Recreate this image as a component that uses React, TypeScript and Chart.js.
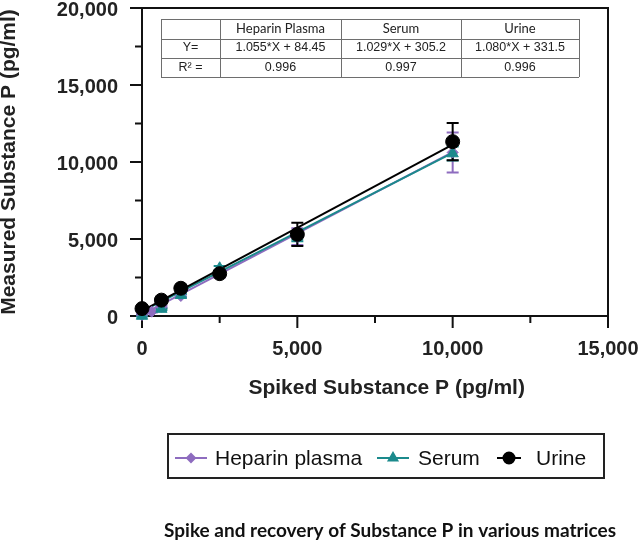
import React, { useEffect, useRef } from 'react';
import { Chart, registerables } from 'chart.js';
import { drawPoint } from 'chart.js/helpers';

Chart.register(...registerables);

// values
const matrices = ['Heparin plasma', 'Serum', 'Urine'];

const heparinSpiked = [0, 312.5, 625, 1250, 2500, 5000, 10000];
const heparinMeasured = [60, 280, 600, 1300, 2700, 5150, 10620];
const heparinSD = [50, 60, 80, 120, 200, 540, 1300];

const serumSpiked = [0, 625, 1250, 2500, 5000, 10000];
const serumMeasured = [0, 450, 1350, 3100, 5150, 10550];
const serumSD = [40, 60, 100, 150, 300, 450];

const urineSpiked = [0, 625, 1250, 2500, 5000, 10000];
const urineMeasured = [480, 1030, 1800, 2750, 5300, 11320];
const urineSD = [60, 80, 100, 150, 760, 1210];

// linear fits shown in the table
const fitSlopes = [1.055, 1.029, 1.08];
const fitIntercepts = [84.45, 305.2, 331.5];
const fitRange = [0, 10000];
const fitEquations = ['1.055*X + 84.45', '1.029*X + 305.2', '1.080*X + 331.5'];
const fitR2 = ['0.996', '0.997', '0.996'];
const tableHeaders = ['', 'Heparin Plasma', 'Serum', 'Urine'];

const xTickValues = [0, 5000, 10000, 15000];
const xMinorTicks = [2500, 7500, 12500];
const yTickValues = [0, 5000, 10000, 15000, 20000];
const yMinorTicks = [2500, 7500, 12500, 17500];

const PURPLE = '#8e6cbf';
const TEAL = '#1b8a8c';
const BLACK = '#000000';
const INK = '#222222';
const ARIAL = "'Liberation Sans', Arial, Helvetica, sans-serif";

const spikedSets = [heparinSpiked, serumSpiked, urineSpiked];
const measuredSets = [heparinMeasured, serumMeasured, urineMeasured];
const sdSets = [heparinSD, serumSD, urineSD];
const colors = [PURPLE, TEAL, BLACK];
const pointStyles = ['rectRot', 'triangle', 'circle'];
const pointRadii = [5.5, 6.5, 7];

const decorPlugin = {
  id: 'decor',
  beforeDatasetsDraw(chart: any) {
    const { ctx, chartArea: a, scales } = chart;
    const x = scales.x;
    const y = scales.y;
    ctx.save();

    // frame and ticks
    ctx.strokeStyle = '#111';
    ctx.lineWidth = 2;
    ctx.strokeRect(a.left, a.top, a.right - a.left, a.bottom - a.top);
    ctx.beginPath();
    xTickValues.forEach((v) => {
      const px = x.getPixelForValue(v);
      ctx.moveTo(px, a.bottom);
      ctx.lineTo(px, a.bottom + 12);
    });
    xMinorTicks.forEach((v) => {
      const px = x.getPixelForValue(v);
      ctx.moveTo(px, a.bottom);
      ctx.lineTo(px, a.bottom + 7);
    });
    yTickValues.forEach((v) => {
      const py = y.getPixelForValue(v);
      ctx.moveTo(a.left, py);
      ctx.lineTo(a.left - 12, py);
    });
    yMinorTicks.forEach((v) => {
      const py = y.getPixelForValue(v);
      ctx.moveTo(a.left, py);
      ctx.lineTo(a.left - 7, py);
    });
    ctx.stroke();

    // results table
    const cols = [161, 220, 341, 461, 579];
    const rows = [19, 38.5, 57.5, 77];
    ctx.fillStyle = '#fff';
    ctx.fillRect(cols[0], rows[0], cols[4] - cols[0], rows[3] - rows[0]);
    ctx.strokeStyle = '#6e6e6e';
    ctx.lineWidth = 1;
    ctx.beginPath();
    cols.forEach((cx) => {
      ctx.moveTo(cx + 0.5, rows[0]);
      ctx.lineTo(cx + 0.5, rows[3]);
    });
    rows.forEach((ry) => {
      ctx.moveTo(cols[0], Math.round(ry) + 0.5);
      ctx.lineTo(cols[4], Math.round(ry) + 0.5);
    });
    ctx.stroke();
    ctx.fillStyle = INK;
    ctx.textAlign = 'center';
    ctx.textBaseline = 'middle';
    const center = (i: number) => (cols[i] + cols[i + 1]) / 2;
    const mid = (r: number) => (rows[r] + rows[r + 1]) / 2;
    ctx.font = "13px Lato, 'Open Sans', sans-serif";
    tableHeaders.forEach((t, i) => ctx.fillText(t, center(i), mid(0)));
    ctx.font = `12.5px ${ARIAL}`;
    ctx.fillText('Y=', center(0), mid(1));
    ctx.fillText('R\u00b2 =', center(0), mid(2));
    fitEquations.forEach((t, i) => ctx.fillText(t, center(i + 1), mid(1)));
    fitR2.forEach((t, i) => ctx.fillText(t, center(i + 1), mid(2)));

    // error bars (mean ± SD)
    ctx.lineWidth = 2;
    spikedSets.forEach((xs, s) => {
      ctx.strokeStyle = colors[s];
      ctx.beginPath();
      xs.forEach((xv, j) => {
        const px = x.getPixelForValue(xv);
        const top = y.getPixelForValue(measuredSets[s][j] + sdSets[s][j]);
        const bot = y.getPixelForValue(measuredSets[s][j] - sdSets[s][j]);
        ctx.moveTo(px, top);
        ctx.lineTo(px, bot);
        ctx.moveTo(px - 6, top);
        ctx.lineTo(px + 6, top);
        ctx.moveTo(px - 6, bot);
        ctx.lineTo(px + 6, bot);
      });
      ctx.stroke();
    });
    ctx.restore();
  },
  afterDraw(chart: any) {
    const { ctx } = chart;
    ctx.save();

    // legend box
    ctx.strokeStyle = '#222';
    ctx.lineWidth = 2;
    ctx.strokeRect(168, 434, 436, 44);
    const items = [
      { from: 175, to: 207, text: 215 },
      { from: 377, to: 409, text: 418 },
      { from: 497, to: 521, text: 536 },
    ];
    const ly = 458;
    items.forEach((it, i) => {
      ctx.strokeStyle = colors[i];
      ctx.fillStyle = colors[i];
      ctx.lineWidth = 2;
      ctx.beginPath();
      ctx.moveTo(it.from, ly);
      ctx.lineTo(it.to, ly);
      ctx.stroke();
      drawPoint(
        ctx,
        { pointStyle: pointStyles[i], radius: pointRadii[i] - 1.5, borderWidth: 1, rotation: 0 },
        (it.from + it.to) / 2,
        ly
      );
      ctx.fillStyle = '#111';
      ctx.font = `21px ${ARIAL}`;
      ctx.textAlign = 'left';
      ctx.textBaseline = 'alphabetic';
      ctx.fillText(matrices[i], it.text, 464.5);
    });

    // caption
    ctx.fillStyle = '#111';
    ctx.font = "bold 19px Lato, 'Open Sans', sans-serif";
    ctx.textAlign = 'center';
    ctx.textBaseline = 'alphabetic';
    ctx.fillText('Spike and recovery of Substance P in various matrices', 390, 537);
    ctx.restore();
  },
};

const App: React.FC = () => {
  const canvasRef = useRef<HTMLCanvasElement>(null);
  const chartRef = useRef<Chart>();

  useEffect(() => {
    if (!canvasRef.current) return;
    const ctx = canvasRef.current.getContext('2d');
    if (!ctx) return;

    const markerSets = matrices.map((name, s) => ({
      label: name,
      data: spikedSets[s].map((xv, j) => ({ x: xv, y: measuredSets[s][j] })),
      showLine: false,
      pointStyle: pointStyles[s],
      pointRadius: pointRadii[s],
      backgroundColor: colors[s],
      borderColor: colors[s],
      borderWidth: 1,
      clip: false as any,
      order: 2 - s,
    }));
    const fitSets = matrices.map((name, s) => ({
      label: name + ' fit',
      data: fitRange.map((xv) => ({ x: xv, y: fitSlopes[s] * xv + fitIntercepts[s] })),
      showLine: true,
      pointRadius: 0,
      borderColor: colors[s],
      backgroundColor: colors[s],
      borderWidth: 2,
      clip: false as any,
      order: 5 - s,
    }));

    const tickFont = { family: ARIAL, size: 20, weight: 'bold' as const };
    const titleFont = { family: ARIAL, size: 21, weight: 'bold' as const };

    chartRef.current = new Chart(ctx, {
      type: 'scatter',
      data: { datasets: [...markerSets, ...fitSets] as any },
      options: {
        responsive: false,
        animation: false,
        layout: { padding: { left: 0, top: 5, right: 34, bottom: 134 } },
        plugins: { legend: { display: false }, tooltip: { enabled: false } },
        scales: {
          x: {
            type: 'linear',
            min: 0,
            max: 15000,
            grid: { display: false, drawTicks: false },
            border: { display: false },
            afterBuildTicks: (scale: any) => {
              scale.ticks = xTickValues.map((value) => ({ value }));
            },
            afterFit: (scale: any) => {
              scale.height = 90;
              scale.paddingLeft = 0;
              scale.paddingRight = 0;
            },
            ticks: {
              autoSkip: false,
              maxRotation: 0,
              padding: 21,
              color: INK,
              font: tickFont,
              callback: (v: any) => Number(v).toLocaleString('en-US'),
            },
            title: {
              display: true,
              // leading spaces nudge the title right, as in the original
              text: '    Spiked Substance P (pg/ml)',
              color: INK,
              font: titleFont,
              padding: { top: 0, bottom: 5 },
            },
          },
          y: {
            type: 'linear',
            min: 0,
            max: 20000,
            grid: { display: false, drawTicks: false },
            border: { display: false },
            afterBuildTicks: (scale: any) => {
              scale.ticks = yTickValues.map((value) => ({ value }));
            },
            afterFit: (scale: any) => {
              scale.width = 142;
              scale.paddingTop = 0;
              scale.paddingBottom = 0;
            },
            ticks: {
              autoSkip: false,
              padding: 24,
              labelOffset: 2.5,
              color: INK,
              font: tickFont,
              callback: (v: any) => Number(v).toLocaleString('en-US'),
            },
            title: {
              display: true,
              text: 'Measured Substance P (pg/ml)',
              color: INK,
              font: { ...titleFont, lineHeight: 0.85 },
              padding: { top: 0, bottom: 0 },
            },
          },
        },
      },
      plugins: [decorPlugin],
    });

    return () => {
      if (chartRef.current) {
        chartRef.current.destroy();
      }
    };
  }, []);

  return (
    <div style={{ position: 'fixed', left: 0, top: 0, width: 642, height: 540, background: '#fff' }}>
      <canvas ref={canvasRef} width={642} height={540} style={{ width: 642, height: 540 }} />
    </div>
  );
};

export default App;
